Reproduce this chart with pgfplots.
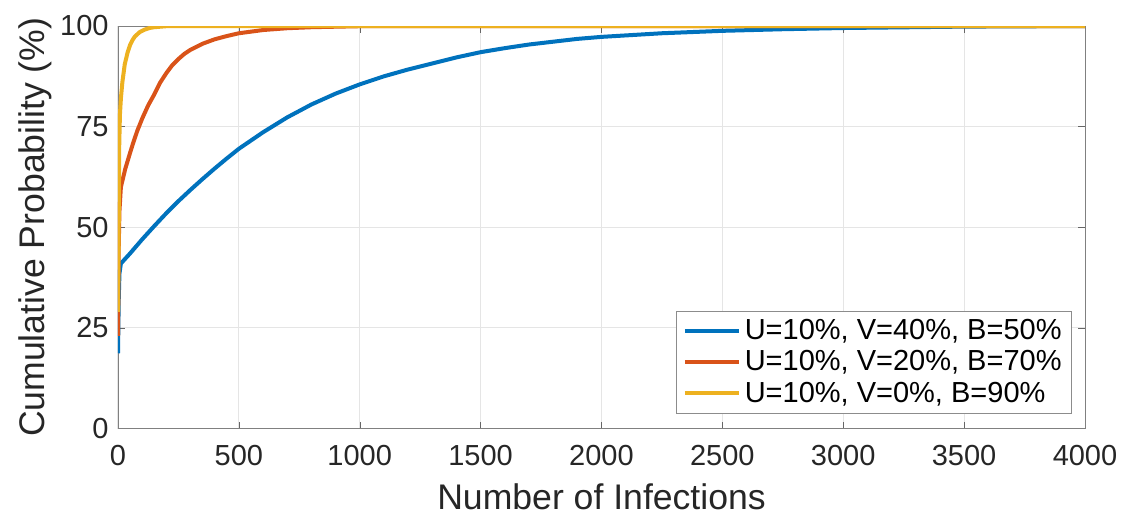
\documentclass[border=0pt]{standalone}
\usepackage{pgfplots}
\pgfplotsset{compat=1.18}
\usepackage{fontspec}
\setmainfont{Liberation Sans}
\definecolor{mblue}{rgb}{0,0.447,0.741}
\definecolor{morange}{rgb}{0.85,0.325,0.098}
\definecolor{myellow}{rgb}{0.929,0.694,0.125}
\begin{document}
\begin{tikzpicture}
\useasboundingbox (-59pt,-44pt) rectangle (502.5pt,214.25pt);
\begin{axis}[
  scale only axis, width=483.5pt, height=201.25pt,
  xmin=0, xmax=4000, ymin=0, ymax=100,
  xtick={0,500,...,4000}, ytick={0,25,50,75,100},
  grid=major, major grid style={black!10, line width=0.5pt},
  tick align=inside, major tick length=3.5pt,
  axis line style={black!50}, tick style={black!60},
  /pgf/number format/assume math mode=true,
  /pgf/number format/1000 sep={},
  ticklabel style={font=\fontsize{14.5}{17}\selectfont, text=black!85},
  xticklabel style={yshift=-5pt},
  yticklabel style={xshift=-1.2pt},
  xlabel={Number of Infections},
  ylabel={Cumulative Probability (\%)},
  label style={font=\fontsize{17.8}{20}\selectfont, text=black!85},
  xlabel style={at={(axis description cs:0.5,-0.200)}, anchor=base},
  ylabel style={at={(axis description cs:-0.0755,0.5)}, anchor=base},
  legend style={at={(axis description cs:1,0)}, anchor=south east,
    xshift=-6.5pt, yshift=7.5pt, draw=black!45,
    font=\fontsize{14.5}{17}\selectfont, cells={anchor=west}},
  legend image code/.code={\draw[#1] (0pt,0pt) -- (27pt,0pt);},
  every axis plot/.append style={line width=2pt, line join=round, no markers},
]
\addplot[mblue] coordinates {
(0,18.7) (3,32) (6,38.5) (12,41) (50,43.5) (100,47) (150,50.3) (200,53.5)
(250,56.5) (300,59.3) (350,62) (400,64.6) (450,67.1) (500,69.5) (600,73.6)
(700,77.3) (800,80.5) (900,83.2) (1000,85.5) (1100,87.5) (1200,89.2)
(1300,90.7) (1400,92.2) (1500,93.5) (1600,94.5) (1700,95.4) (1800,96.1)
(1900,96.8) (2000,97.3) (2250,98.2) (2500,98.8) (2750,99.2)
(3000,99.5) (3500,99.85) (4000,100)};
\addlegendentry{U=10\%, V=40\%, B=50\%}
\addplot[morange] coordinates {
(0,23) (3,45) (6,54) (12,60) (30,64.5) (50,68.5) (63,71) (80,74) (100,77)
(125,80.3) (150,83) (175,86) (200,88.3) (225,90.3) (250,91.8) (275,93.1)
(300,94.1) (350,95.6) (400,96.7) (450,97.5) (500,98.2) (600,99)
(700,99.45) (800,99.7) (1000,99.95) (4000,100)};
\addlegendentry{U=10\%, V=20\%, B=70\%}
\addplot[myellow] coordinates {
(0,29) (3,50) (5,70) (8,78) (12,82) (18,86) (28,90.5) (40,93.5) (50,95.3)
(60,96.5) (70,97.4) (90,98.5) (110,99.1) (130,99.5) (150,99.7) (200,99.95)
(250,100) (4000,100)};
\addlegendentry{U=10\%, V=0\%, B=90\%}
\end{axis}
\end{tikzpicture}
\end{document}
